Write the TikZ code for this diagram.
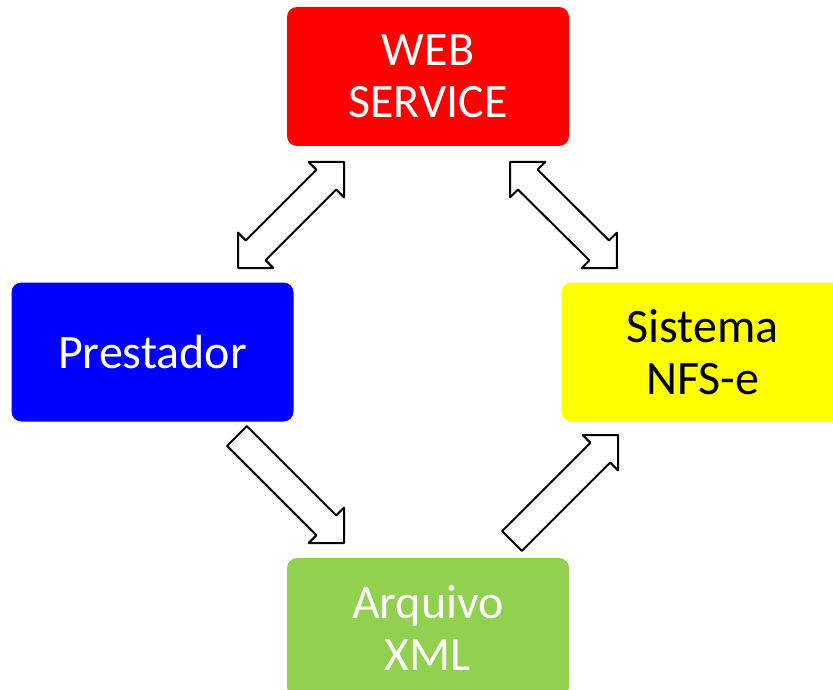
\documentclass[tikz,border=0pt]{standalone}
\usepackage{fontspec}
\setmainfont{Carlito}
\usetikzlibrary{calc}
\definecolor{webred}{RGB}{255,0,0}
\definecolor{presblue}{RGB}{0,0,255}
\definecolor{nfsyellow}{RGB}{255,255,0}
\definecolor{xmlgreen}{RGB}{146,208,80}
\tikzset{
  box/.style={rectangle, rounded corners=10pt, minimum width=282pt, minimum height=139pt,
    inner sep=0pt, align=center, text=white, font=\fontsize{48}{52}\selectfont},
  blockarrow/.style={draw=black, fill=white, line width=2pt, line join=round}
}
\begin{document}
\begin{tikzpicture}[x=1pt,y=-1pt]
	\clip (0,0) rectangle (833,690);
	\fill[white] (0,0) rectangle (833,690);
	% boxes
	\node[box, fill=webred] (web) at (428,76.5) {WEB\\SERVICE};
	\node[box, fill=presblue] (pres) at (152.5,352) {Prestador};
	\node[box, fill=nfsyellow, text=black] (nfs) at (702.5,352) {Sistema\\NFS-e};
	\node[box, fill=xmlgreen] (xml) at (428,627.5) {Arquivo\\XML};
	% arrow ends
	\coordinate (wp1) at (238,268);
	\coordinate (wp2) at (344,162);
	\coordinate (wn1) at (510,162);
	\coordinate (wn2) at (617,268);
	\coordinate (px1) at (237,436);
	\coordinate (px2) at (344,543);
	\coordinate (xn1) at (512,541);
	\coordinate (xn2) at (618,435);
	% double arrows
	\foreach \s/\t in {wp1/wp2, wn1/wn2} {
		\path ($(\s)!25pt!(\t)$) coordinate (h1) ($(\t)!25pt!(\s)$) coordinate (h2);
		\draw[blockarrow] (\s) -- ($(h1)!25pt!90:(\t)$) -- ($(h1)!14pt!90:(\t)$) -- ($(h2)!14pt!90:(\t)$)
			-- ($(h2)!25pt!90:(\t)$) -- (\t) -- ($(h2)!25pt!-90:(\t)$) -- ($(h2)!14pt!-90:(\t)$)
			-- ($(h1)!14pt!-90:(\t)$) -- ($(h1)!25pt!-90:(\t)$) -- cycle;
	}
	% single arrows
	\foreach \s/\t in {px1/px2, xn1/xn2} {
		\path ($(\t)!25pt!(\s)$) coordinate (h2);
		\draw[blockarrow] ($(\s)!14pt!90:(\t)$) -- ($(h2)!14pt!90:(\t)$) -- ($(h2)!25pt!90:(\t)$) -- (\t)
			-- ($(h2)!25pt!-90:(\t)$) -- ($(h2)!14pt!-90:(\t)$) -- ($(\s)!14pt!-90:(\t)$) -- cycle;
	}
\end{tikzpicture}
\end{document}
